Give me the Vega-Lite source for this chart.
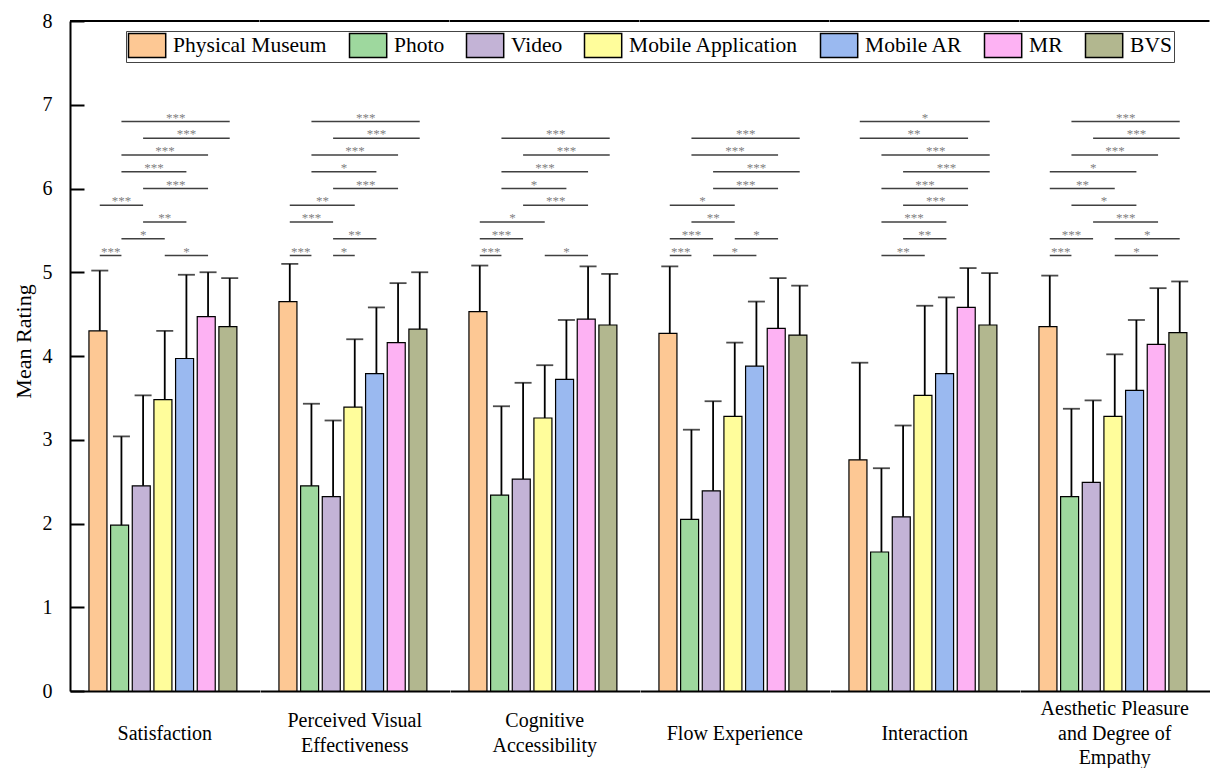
{
  "$schema": "https://vega.github.io/schema/vega-lite/v6.json",
  "padding": {"left": 12, "top": 11, "right": 0, "bottom": 0},
  "background": "white",
  "bounds": "flush",
  "datasets": {
    "all": [
      {"kind": "bar", "cat": "Satisfaction", "group": "Physical Museum", "mean": 4.30, "upper": 5.02},
      {"kind": "bar", "cat": "Satisfaction", "group": "Photo", "mean": 1.98, "upper": 3.04},
      {"kind": "bar", "cat": "Satisfaction", "group": "Video", "mean": 2.45, "upper": 3.53},
      {"kind": "bar", "cat": "Satisfaction", "group": "Mobile Application", "mean": 3.48, "upper": 4.30},
      {"kind": "bar", "cat": "Satisfaction", "group": "Mobile AR", "mean": 3.97, "upper": 4.97},
      {"kind": "bar", "cat": "Satisfaction", "group": "MR", "mean": 4.47, "upper": 5.00},
      {"kind": "bar", "cat": "Satisfaction", "group": "BVS", "mean": 4.35, "upper": 4.93},
      {"kind": "bar", "cat": "Perceived Visual|Effectiveness", "group": "Physical Museum", "mean": 4.65, "upper": 5.10},
      {"kind": "bar", "cat": "Perceived Visual|Effectiveness", "group": "Photo", "mean": 2.45, "upper": 3.43},
      {"kind": "bar", "cat": "Perceived Visual|Effectiveness", "group": "Video", "mean": 2.32, "upper": 3.23},
      {"kind": "bar", "cat": "Perceived Visual|Effectiveness", "group": "Mobile Application", "mean": 3.39, "upper": 4.20},
      {"kind": "bar", "cat": "Perceived Visual|Effectiveness", "group": "Mobile AR", "mean": 3.79, "upper": 4.58},
      {"kind": "bar", "cat": "Perceived Visual|Effectiveness", "group": "MR", "mean": 4.16, "upper": 4.87},
      {"kind": "bar", "cat": "Perceived Visual|Effectiveness", "group": "BVS", "mean": 4.32, "upper": 5.00},
      {"kind": "bar", "cat": "Cognitive|Accessibility", "group": "Physical Museum", "mean": 4.53, "upper": 5.08},
      {"kind": "bar", "cat": "Cognitive|Accessibility", "group": "Photo", "mean": 2.34, "upper": 3.40},
      {"kind": "bar", "cat": "Cognitive|Accessibility", "group": "Video", "mean": 2.53, "upper": 3.68},
      {"kind": "bar", "cat": "Cognitive|Accessibility", "group": "Mobile Application", "mean": 3.26, "upper": 3.89},
      {"kind": "bar", "cat": "Cognitive|Accessibility", "group": "Mobile AR", "mean": 3.72, "upper": 4.43},
      {"kind": "bar", "cat": "Cognitive|Accessibility", "group": "MR", "mean": 4.44, "upper": 5.07},
      {"kind": "bar", "cat": "Cognitive|Accessibility", "group": "BVS", "mean": 4.37, "upper": 4.98},
      {"kind": "bar", "cat": "Flow Experience", "group": "Physical Museum", "mean": 4.27, "upper": 5.07},
      {"kind": "bar", "cat": "Flow Experience", "group": "Photo", "mean": 2.05, "upper": 3.12},
      {"kind": "bar", "cat": "Flow Experience", "group": "Video", "mean": 2.39, "upper": 3.46},
      {"kind": "bar", "cat": "Flow Experience", "group": "Mobile Application", "mean": 3.28, "upper": 4.16},
      {"kind": "bar", "cat": "Flow Experience", "group": "Mobile AR", "mean": 3.88, "upper": 4.65},
      {"kind": "bar", "cat": "Flow Experience", "group": "MR", "mean": 4.33, "upper": 4.93},
      {"kind": "bar", "cat": "Flow Experience", "group": "BVS", "mean": 4.25, "upper": 4.84},
      {"kind": "bar", "cat": "Interaction", "group": "Physical Museum", "mean": 2.76, "upper": 3.92},
      {"kind": "bar", "cat": "Interaction", "group": "Photo", "mean": 1.66, "upper": 2.66},
      {"kind": "bar", "cat": "Interaction", "group": "Video", "mean": 2.08, "upper": 3.17},
      {"kind": "bar", "cat": "Interaction", "group": "Mobile Application", "mean": 3.53, "upper": 4.60},
      {"kind": "bar", "cat": "Interaction", "group": "Mobile AR", "mean": 3.79, "upper": 4.70},
      {"kind": "bar", "cat": "Interaction", "group": "MR", "mean": 4.58, "upper": 5.05},
      {"kind": "bar", "cat": "Interaction", "group": "BVS", "mean": 4.37, "upper": 4.99},
      {"kind": "bar", "cat": "Aesthetic Pleasure|and Degree of|Empathy", "group": "Physical Museum", "mean": 4.35, "upper": 4.96},
      {"kind": "bar", "cat": "Aesthetic Pleasure|and Degree of|Empathy", "group": "Photo", "mean": 2.32, "upper": 3.37},
      {"kind": "bar", "cat": "Aesthetic Pleasure|and Degree of|Empathy", "group": "Video", "mean": 2.49, "upper": 3.47},
      {"kind": "bar", "cat": "Aesthetic Pleasure|and Degree of|Empathy", "group": "Mobile Application", "mean": 3.28, "upper": 4.02},
      {"kind": "bar", "cat": "Aesthetic Pleasure|and Degree of|Empathy", "group": "Mobile AR", "mean": 3.59, "upper": 4.43},
      {"kind": "bar", "cat": "Aesthetic Pleasure|and Degree of|Empathy", "group": "MR", "mean": 4.14, "upper": 4.81},
      {"kind": "bar", "cat": "Aesthetic Pleasure|and Degree of|Empathy", "group": "BVS", "mean": 4.28, "upper": 4.89},

      {"kind": "sig", "cat": "Satisfaction", "from": "Photo", "to": "BVS", "span": 5, "level": 6.8, "sig": "***"},
      {"kind": "sig", "cat": "Satisfaction", "from": "Video", "to": "BVS", "span": 4, "level": 6.6, "sig": "***"},
      {"kind": "sig", "cat": "Satisfaction", "from": "Photo", "to": "MR", "span": 4, "level": 6.4, "sig": "***"},
      {"kind": "sig", "cat": "Satisfaction", "from": "Photo", "to": "Mobile AR", "span": 3, "level": 6.2, "sig": "***"},
      {"kind": "sig", "cat": "Satisfaction", "from": "Video", "to": "MR", "span": 3, "level": 6.0, "sig": "***"},
      {"kind": "sig", "cat": "Satisfaction", "from": "Physical Museum", "to": "Video", "span": 2, "level": 5.8, "sig": "***"},
      {"kind": "sig", "cat": "Satisfaction", "from": "Video", "to": "Mobile AR", "span": 2, "level": 5.6, "sig": "**"},
      {"kind": "sig", "cat": "Satisfaction", "from": "Photo", "to": "Mobile Application", "span": 2, "level": 5.4, "sig": "*"},
      {"kind": "sig", "cat": "Satisfaction", "from": "Physical Museum", "to": "Photo", "span": 1, "level": 5.2, "sig": "***"},
      {"kind": "sig", "cat": "Satisfaction", "from": "Mobile Application", "to": "MR", "span": 2, "level": 5.2, "sig": "*"},

      {"kind": "sig", "cat": "Perceived Visual|Effectiveness", "from": "Photo", "to": "BVS", "span": 5, "level": 6.8, "sig": "***"},
      {"kind": "sig", "cat": "Perceived Visual|Effectiveness", "from": "Video", "to": "BVS", "span": 4, "level": 6.6, "sig": "***"},
      {"kind": "sig", "cat": "Perceived Visual|Effectiveness", "from": "Photo", "to": "MR", "span": 4, "level": 6.4, "sig": "***"},
      {"kind": "sig", "cat": "Perceived Visual|Effectiveness", "from": "Photo", "to": "Mobile AR", "span": 3, "level": 6.2, "sig": "*"},
      {"kind": "sig", "cat": "Perceived Visual|Effectiveness", "from": "Video", "to": "MR", "span": 3, "level": 6.0, "sig": "***"},
      {"kind": "sig", "cat": "Perceived Visual|Effectiveness", "from": "Physical Museum", "to": "Mobile Application", "span": 3, "level": 5.8, "sig": "**"},
      {"kind": "sig", "cat": "Perceived Visual|Effectiveness", "from": "Physical Museum", "to": "Video", "span": 2, "level": 5.6, "sig": "***"},
      {"kind": "sig", "cat": "Perceived Visual|Effectiveness", "from": "Video", "to": "Mobile AR", "span": 2, "level": 5.4, "sig": "**"},
      {"kind": "sig", "cat": "Perceived Visual|Effectiveness", "from": "Physical Museum", "to": "Photo", "span": 1, "level": 5.2, "sig": "***"},
      {"kind": "sig", "cat": "Perceived Visual|Effectiveness", "from": "Video", "to": "Mobile Application", "span": 1, "level": 5.2, "sig": "*"},

      {"kind": "sig", "cat": "Cognitive|Accessibility", "from": "Photo", "to": "BVS", "span": 5, "level": 6.6, "sig": "***"},
      {"kind": "sig", "cat": "Cognitive|Accessibility", "from": "Video", "to": "BVS", "span": 4, "level": 6.4, "sig": "***"},
      {"kind": "sig", "cat": "Cognitive|Accessibility", "from": "Photo", "to": "MR", "span": 4, "level": 6.2, "sig": "***"},
      {"kind": "sig", "cat": "Cognitive|Accessibility", "from": "Photo", "to": "Mobile AR", "span": 3, "level": 6.0, "sig": "*"},
      {"kind": "sig", "cat": "Cognitive|Accessibility", "from": "Video", "to": "MR", "span": 3, "level": 5.8, "sig": "***"},
      {"kind": "sig", "cat": "Cognitive|Accessibility", "from": "Physical Museum", "to": "Mobile Application", "span": 3, "level": 5.6, "sig": "*"},
      {"kind": "sig", "cat": "Cognitive|Accessibility", "from": "Physical Museum", "to": "Video", "span": 2, "level": 5.4, "sig": "***"},
      {"kind": "sig", "cat": "Cognitive|Accessibility", "from": "Physical Museum", "to": "Photo", "span": 1, "level": 5.2, "sig": "***"},
      {"kind": "sig", "cat": "Cognitive|Accessibility", "from": "Mobile Application", "to": "MR", "span": 2, "level": 5.2, "sig": "*"},

      {"kind": "sig", "cat": "Flow Experience", "from": "Photo", "to": "BVS", "span": 5, "level": 6.6, "sig": "***"},
      {"kind": "sig", "cat": "Flow Experience", "from": "Photo", "to": "MR", "span": 4, "level": 6.4, "sig": "***"},
      {"kind": "sig", "cat": "Flow Experience", "from": "Video", "to": "BVS", "span": 4, "level": 6.2, "sig": "***"},
      {"kind": "sig", "cat": "Flow Experience", "from": "Video", "to": "MR", "span": 3, "level": 6.0, "sig": "***"},
      {"kind": "sig", "cat": "Flow Experience", "from": "Physical Museum", "to": "Mobile Application", "span": 3, "level": 5.8, "sig": "*"},
      {"kind": "sig", "cat": "Flow Experience", "from": "Photo", "to": "Mobile Application", "span": 2, "level": 5.6, "sig": "**"},
      {"kind": "sig", "cat": "Flow Experience", "from": "Physical Museum", "to": "Video", "span": 2, "level": 5.4, "sig": "***"},
      {"kind": "sig", "cat": "Flow Experience", "from": "Mobile Application", "to": "MR", "span": 2, "level": 5.4, "sig": "*"},
      {"kind": "sig", "cat": "Flow Experience", "from": "Physical Museum", "to": "Photo", "span": 1, "level": 5.2, "sig": "***"},
      {"kind": "sig", "cat": "Flow Experience", "from": "Video", "to": "Mobile AR", "span": 2, "level": 5.2, "sig": "*"},

      {"kind": "sig", "cat": "Interaction", "from": "Physical Museum", "to": "BVS", "span": 6, "level": 6.8, "sig": "*"},
      {"kind": "sig", "cat": "Interaction", "from": "Physical Museum", "to": "MR", "span": 5, "level": 6.6, "sig": "**"},
      {"kind": "sig", "cat": "Interaction", "from": "Photo", "to": "BVS", "span": 5, "level": 6.4, "sig": "***"},
      {"kind": "sig", "cat": "Interaction", "from": "Video", "to": "BVS", "span": 4, "level": 6.2, "sig": "***"},
      {"kind": "sig", "cat": "Interaction", "from": "Photo", "to": "MR", "span": 4, "level": 6.0, "sig": "***"},
      {"kind": "sig", "cat": "Interaction", "from": "Video", "to": "MR", "span": 3, "level": 5.8, "sig": "***"},
      {"kind": "sig", "cat": "Interaction", "from": "Photo", "to": "Mobile AR", "span": 3, "level": 5.6, "sig": "***"},
      {"kind": "sig", "cat": "Interaction", "from": "Video", "to": "Mobile AR", "span": 2, "level": 5.4, "sig": "**"},
      {"kind": "sig", "cat": "Interaction", "from": "Photo", "to": "Mobile Application", "span": 2, "level": 5.2, "sig": "**"},

      {"kind": "sig", "cat": "Aesthetic Pleasure|and Degree of|Empathy", "from": "Photo", "to": "BVS", "span": 5, "level": 6.8, "sig": "***"},
      {"kind": "sig", "cat": "Aesthetic Pleasure|and Degree of|Empathy", "from": "Video", "to": "BVS", "span": 4, "level": 6.6, "sig": "***"},
      {"kind": "sig", "cat": "Aesthetic Pleasure|and Degree of|Empathy", "from": "Photo", "to": "MR", "span": 4, "level": 6.4, "sig": "***"},
      {"kind": "sig", "cat": "Aesthetic Pleasure|and Degree of|Empathy", "from": "Physical Museum", "to": "Mobile AR", "span": 4, "level": 6.2, "sig": "*"},
      {"kind": "sig", "cat": "Aesthetic Pleasure|and Degree of|Empathy", "from": "Physical Museum", "to": "Mobile Application", "span": 3, "level": 6.0, "sig": "**"},
      {"kind": "sig", "cat": "Aesthetic Pleasure|and Degree of|Empathy", "from": "Photo", "to": "Mobile AR", "span": 3, "level": 5.8, "sig": "*"},
      {"kind": "sig", "cat": "Aesthetic Pleasure|and Degree of|Empathy", "from": "Video", "to": "MR", "span": 3, "level": 5.6, "sig": "***"},
      {"kind": "sig", "cat": "Aesthetic Pleasure|and Degree of|Empathy", "from": "Physical Museum", "to": "Video", "span": 2, "level": 5.4, "sig": "***"},
      {"kind": "sig", "cat": "Aesthetic Pleasure|and Degree of|Empathy", "from": "Mobile Application", "to": "BVS", "span": 3, "level": 5.4, "sig": "*"},
      {"kind": "sig", "cat": "Aesthetic Pleasure|and Degree of|Empathy", "from": "Physical Museum", "to": "Photo", "span": 1, "level": 5.2, "sig": "***"},
      {"kind": "sig", "cat": "Aesthetic Pleasure|and Degree of|Empathy", "from": "Mobile Application", "to": "MR", "span": 2, "level": 5.2, "sig": "*"}
    ]
  },
  "data": {"name": "all"},
  "facet": {
    "column": {
      "field": "cat",
      "type": "nominal",
      "sort": ["Satisfaction", "Perceived Visual|Effectiveness", "Cognitive|Accessibility", "Flow Experience", "Interaction", "Aesthetic Pleasure|and Degree of|Empathy"],
      "header": {
        "title": null,
        "labelOrient": "bottom",
        "labelFont": "Liberation Serif",
        "labelFontSize": 20,
        "labelColor": "black",
        "labelExpr": "length(split(datum.label, '|')) == 1 ? ['\u200b', '\u200b', datum.label] : length(split(datum.label, '|')) == 2 ? ['\u200b', split(datum.label, '|')[0], '\u200b', split(datum.label, '|')[1]] : [split(datum.label, '|')[0], '\u200b', split(datum.label, '|')[1], '\u200b', split(datum.label, '|')[2]]",
        "labelLineHeight": 12.25,
        "labelBaseline": "middle",
        "labelPadding": 18
      }
    }
  },
  "spacing": 0,
  "spec": {
    "width": 189.5,
    "height": 670,
    "layer": [
      {
        "transform": [{"filter": "datum.kind === 'bar' && datum.group === 'Physical Museum'"}],
        "mark": {"type": "rule", "color": "black", "strokeWidth": 2},
        "encoding": {"y": {"datum": 8, "type": "quantitative", "scale": {"domain": [0, 8], "nice": false}}}
      },
      {
        "transform": [{"filter": "datum.kind === 'bar'"}],
        "mark": {"type": "bar", "stroke": "black", "strokeWidth": 1.2},
        "encoding": {
          "x": {
            "field": "group", "type": "nominal",
            "scale": {"domain": ["Physical Museum", "Photo", "Video", "Mobile Application", "Mobile AR", "MR", "BVS"], "paddingInner": 0, "paddingOuter": 0.875},
            "axis": {"labels": false, "ticks": false, "title": null, "domainColor": "black", "domainWidth": 2}
          },
          "y": {
            "field": "mean", "type": "quantitative",
            "scale": {"domain": [0, 8], "nice": false},
            "axis": {
              "title": "Mean Rating", "values": [0, 1, 2, 3, 4, 5, 6, 7, 8], "format": "d", "grid": false,
              "domainColor": "black", "domainWidth": 2, "tickColor": "black", "tickWidth": 2, "tickSize": -14,
              "labelFont": "Liberation Serif", "labelFontSize": 20, "labelColor": "black", "labelPadding": 32,
              "titleFont": "Liberation Serif", "titleFontSize": 22, "titleFontWeight": "normal", "titleColor": "black", "titlePadding": 7, "titleY": 320
            }
          },
          "color": {
            "field": "group", "type": "nominal",
            "scale": {
              "domain": ["Physical Museum", "Photo", "Video", "Mobile Application", "Mobile AR", "MR", "BVS"],
              "range": ["#FDC894", "#9ED89E", "#C3B3D6", "#FFFD9B", "#9AB9F0", "#FDB2F3", "#B2B78F"]
            },
            "legend": {
              "title": null, "orient": "none", "legendX": 56, "legendY": 10, "direction": "horizontal",
              "symbolType": "M-1.55,-1H1.55V1H-1.55Z", "symbolSize": 576, "symbolOffset": 6.6, "symbolStrokeColor": "black", "symbolStrokeWidth": 1.5,
              "labelFont": "Liberation Serif", "labelFontSize": 21.5, "labelColor": "black", "labelOffset": 13, "labelLimit": 400,
              "columnPadding": 19, "padding": 1.5, "strokeColor": "#444", "fillColor": "white", "symbolOpacity": 1
            }
          }
        }
      },
      {
        "transform": [{"filter": "datum.kind === 'bar'"}],
        "mark": {"type": "rule", "color": "black", "strokeWidth": 1.8},
        "encoding": {
          "x": {"field": "group", "type": "nominal"},
          "y": {"field": "mean", "type": "quantitative"},
          "y2": {"field": "upper"}
        }
      },
      {
        "transform": [{"filter": "datum.kind === 'bar'"}],
        "mark": {"type": "tick", "color": "black", "size": 17, "thickness": 1.8},
        "encoding": {
          "x": {"field": "group", "type": "nominal"},
          "y": {"field": "upper", "type": "quantitative"}
        }
      },
      {
        "transform": [{"filter": "datum.kind === 'sig'"}],
        "mark": {"type": "rule", "color": "#404040", "strokeWidth": 1.5},
        "encoding": {
          "x": {"field": "from", "type": "nominal", "bandPosition": 0.5},
          "x2": {"field": "to", "bandPosition": 0.5},
          "y": {"field": "level", "type": "quantitative"}
        }
      },
      {
        "transform": [{"filter": "datum.kind === 'sig'"}],
        "mark": {"type": "text", "font": "Liberation Serif", "fontSize": 13, "color": "#808080", "baseline": "alphabetic", "align": "center", "dy": 0},
        "encoding": {
          "x": {"field": "from", "type": "nominal"},
          "xOffset": {"field": "span", "type": "quantitative", "scale": {"domain": [0, 6], "range": [10.857, 76.0]}},
          "y": {"field": "level", "type": "quantitative"},
          "text": {"field": "sig"}
        }
      }
    ]
  },
  "config": {
    "view": {"stroke": null},
    "font": "Liberation Serif",
    "legend": {"labelFont": "Liberation Serif"}
  }
}
